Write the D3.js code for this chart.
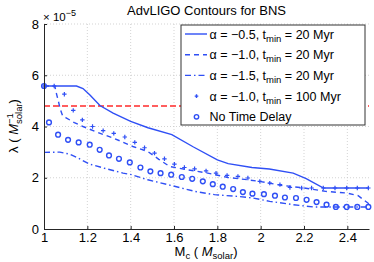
<!DOCTYPE html>
<html><head><meta charset="utf-8">
<script src="https://cdn.jsdelivr.net/npm/d3@7"></script>
<style>
html,body{margin:0;padding:0;background:#fff;}
svg text{font-family:"Liberation Sans",Arial,Helvetica,sans-serif;fill:#000;}
</style></head>
<body><svg id="c" width="374" height="262"></svg>
<script>
// ---- data (λ in units of 1e-5) ----
const xTicks = [1, 1.2, 1.4, 1.6, 1.8, 2, 2.2, 2.4];
const xTickLabels = ["1", "1.2", "1.4", "1.6", "1.8", "2", "2.2", "2.4"];
const yTicks = [0, 2, 4, 6, 8];
const yTickLabels = ["0", "2", "4", "6", "8"];
const threshold = 4.8;

const solidX = [1.0, 1.15, 1.18, 1.212, 1.258, 1.319, 1.40, 1.48, 1.59, 1.69, 1.80, 1.85, 1.96, 2.04, 2.15, 2.21, 2.29, 2.5];
const solidY = [5.58, 5.58, 5.48, 5.23, 4.82, 4.52, 4.2, 3.95, 3.68, 3.2, 2.70, 2.55, 2.40, 2.34, 2.18, 1.97, 1.60, 1.60];

const dashedX = [1.0, 1.05, 1.056, 1.066, 1.075, 1.086, 1.1, 1.14, 1.18, 1.25, 1.32, 1.41, 1.48, 1.53, 1.58, 1.664, 1.756, 1.849, 1.941, 2.0, 2.1, 2.2, 2.3, 2.4, 2.45, 2.5];
const dashedY = [5.58, 5.58, 5.33, 5.0, 4.68, 4.42, 4.35, 4.15, 4.0, 3.76, 3.55, 3.22, 3.02, 2.72, 2.44, 2.31, 2.18, 2.01, 1.92, 1.85, 1.70, 1.60, 1.47, 1.40, 1.30, 0.98];

const dashDotX = [1.0, 1.073, 1.119, 1.157, 1.211, 1.288, 1.365, 1.404, 1.479, 1.587, 1.695, 1.787, 1.895, 1.964, 2.042, 2.15, 2.243, 2.32, 2.5];
const dashDotY = [2.99, 3.0, 2.92, 2.77, 2.53, 2.35, 2.18, 2.12, 1.92, 1.70, 1.47, 1.34, 1.27, 1.21, 1.08, 0.95, 0.86, 0.86, 0.86];

const plusX = [1.0, 1.047, 1.094, 1.135, 1.177, 1.224, 1.273, 1.322, 1.373, 1.419, 1.464, 1.51, 1.556, 1.602, 1.648, 1.695, 1.748, 1.794, 1.845, 1.895, 1.941, 1.996, 2.042, 2.089, 2.135, 2.189, 2.235, 2.289, 2.343, 2.397, 2.446, 2.497];
const plusY = [5.58, 5.58, 5.26, 4.63, 4.26, 4.00, 3.84, 3.73, 3.59, 3.38, 3.17, 2.96, 2.74, 2.53, 2.40, 2.35, 2.27, 2.18, 2.09, 2.05, 1.99, 1.86, 1.79, 1.73, 1.62, 1.60, 1.60, 1.60, 1.60, 1.60, 1.60, 1.60];

const circX = [1.0, 1.023, 1.065, 1.111, 1.160, 1.211, 1.257, 1.300, 1.346, 1.396, 1.445, 1.491, 1.538, 1.587, 1.636, 1.684, 1.733, 1.779, 1.825, 1.873, 1.918, 1.962, 2.015, 2.066, 2.112, 2.163, 2.212, 2.258, 2.304, 2.347, 2.397, 2.446, 2.497];
const circY = [5.58, 4.16, 3.68, 3.48, 3.38, 3.29, 3.09, 2.87, 2.74, 2.60, 2.40, 2.25, 2.18, 2.12, 2.03, 1.96, 1.86, 1.75, 1.65, 1.56, 1.44, 1.38, 1.36, 1.30, 1.23, 1.21, 1.14, 1.05, 0.95, 0.86, 0.86, 0.86, 0.86];

const legendLabels = [
  ["α = −0.5, t", "min", " = 20 Myr"],
  ["α = −1.0, t", "min", " = 20 Myr"],
  ["α = −1.5, t", "min", " = 20 Myr"],
  ["α = −1.0, t", "min", " = 100 Myr"],
  ["No Time Delay", "", ""]
];
const titleText = "AdvLIGO Contours for BNS";

// ---- drawing ----
const blue = "#2f4ff5";
const svg = d3.select("#c");
const L = 44, R = 369, T = 24, B = 229;
const x = d3.scaleLinear().domain([1, 2.5]).range([L, R]);
const y = d3.scaleLinear().domain([0, 8]).range([B, T]);
const zip = (a, b) => a.map((v, i) => [v, b[i]]);
const line = d3.line().x(d => x(d[0])).y(d => y(d[1]));

// grid
const grid = svg.append("g").attr("stroke", "#c8c8c8").attr("stroke-width", 0.8).attr("stroke-dasharray", "1,2");
xTicks.slice(1).forEach(t => grid.append("line").attr("x1", x(t)).attr("x2", x(t)).attr("y1", T).attr("y2", B));
yTicks.slice(1).forEach(t => grid.append("line").attr("x1", L).attr("x2", R).attr("y1", y(t)).attr("y2", y(t)));

// threshold
svg.append("line").attr("x1", x(1)).attr("x2", x(2.5)).attr("y1", y(threshold)).attr("y2", y(threshold))
  .attr("stroke", "#ff2a2a").attr("stroke-width", 1.6).attr("stroke-dasharray", "6,3");

// series lines
const plot = svg.append("g").attr("fill", "none").attr("stroke", blue).attr("stroke-width", 1.4);
plot.append("path").attr("d", line(zip(solidX, solidY)));
plot.append("path").attr("d", line(zip(dashedX, dashedY))).attr("stroke-dasharray", "5,4");
plot.append("path").attr("d", line(zip(dashDotX, dashDotY))).attr("stroke-dasharray", "6,3,1.5,3");

// markers
function plusMark(g, cx, cy, s) {
  g.append("path").attr("d", `M${cx - s},${cy}H${cx + s}M${cx},${cy - s}V${cy + s}`);
}
const pm = svg.append("g").attr("stroke", blue).attr("stroke-width", 1.2).attr("fill", "none");
zip(plusX, plusY).forEach(d => plusMark(pm, x(d[0]), y(d[1]), 2.2));
svg.append("g").selectAll("circle").data(zip(circX, circY)).join("circle")
  .attr("cx", d => x(d[0])).attr("cy", d => y(d[1])).attr("r", 2.4)
  .attr("fill", "none").attr("stroke", blue).attr("stroke-width", 1.4);

// axes
const axCol = "#262626";
const xAxis = svg.append("g").attr("transform", `translate(0,${B})`)
  .call(d3.axisBottom(x).tickValues(xTicks).tickFormat((d, i) => xTickLabels[i]).tickSizeInner(-3).tickSizeOuter(0).tickPadding(4));
const yAxis = svg.append("g").attr("transform", `translate(${L},0)`)
  .call(d3.axisLeft(y).tickValues(yTicks).tickFormat((d, i) => yTickLabels[i]).tickSizeInner(-3).tickSizeOuter(0).tickPadding(5));
[xAxis, yAxis].forEach(a => {
  a.select(".domain").attr("stroke", axCol).attr("stroke-width", 1);
  a.selectAll(".tick line").attr("stroke", axCol);
  a.selectAll(".tick text").attr("font-size", 13).attr("fill", "#000")
    .style("font-family", '"Liberation Sans",Arial,sans-serif');
});

// exponent label
const ex = svg.append("text").attr("x", 43).attr("y", 21).attr("font-size", 11.5);
ex.append("tspan").text("× 10");
ex.append("tspan").attr("dy", -5).attr("font-size", 9).text("−5");

// title
svg.append("text").attr("x", 206.5).attr("y", 15).attr("text-anchor", "middle").attr("font-size", 13).text(titleText);

// x label
const xl = svg.append("text").attr("x", 206).attr("y", 256).attr("text-anchor", "middle").attr("font-size", 13);
xl.append("tspan").text("M");
xl.append("tspan").attr("dy", 3).attr("font-size", 9.5).text("c");
xl.append("tspan").attr("dy", -3).text(" ( ");
xl.append("tspan").attr("font-style", "italic").text("M");
xl.append("tspan").attr("dy", 3).attr("font-size", 9.5).text("solar");
xl.append("tspan").attr("dy", -3).text(")");

// y label (rotated), M^{-1}_{solar}
const yg = svg.append("g").attr("transform", "translate(18,126) rotate(-90)");
const t1 = yg.append("text").attr("font-size", 13).text("λ ( ");
t1.append("tspan").attr("font-style", "italic").text("M");
const w1 = t1.node().getComputedTextLength();
const sup = yg.append("text").attr("font-size", 9.5).text("−1");
const sub = yg.append("text").attr("font-size", 9.5).text("solar");
const wS = Math.max(sup.node().getComputedTextLength(), sub.node().getComputedTextLength());
const t3 = yg.append("text").attr("font-size", 13).text(")");
const w3 = t3.node().getComputedTextLength();
const x0 = -(w1 + wS + w3) / 2;
t1.attr("x", x0).attr("y", 0);
sup.attr("x", x0 + w1).attr("y", -5);
sub.attr("x", x0 + w1).attr("y", 4);
t3.attr("x", x0 + w1 + wS).attr("y", 0);

// legend
const lg = svg.append("g");
lg.append("rect").attr("x", 181).attr("y", 25).attr("width", 184).attr("height", 100)
  .attr("fill", "#fff").attr("stroke", "#333").attr("stroke-width", 1);
const rowY = i => 34 + i * 20.7;
const ls = lg.append("g").attr("stroke", blue).attr("stroke-width", 1.4).attr("fill", "none");
ls.append("line").attr("x1", 185).attr("x2", 207).attr("y1", rowY(0)).attr("y2", rowY(0));
ls.append("line").attr("x1", 185).attr("x2", 207).attr("y1", rowY(1)).attr("y2", rowY(1)).attr("stroke-dasharray", "5,4");
ls.append("line").attr("x1", 185).attr("x2", 207).attr("y1", rowY(2)).attr("y2", rowY(2)).attr("stroke-dasharray", "6,3,1.5,3");
plusMark(ls, 196.5, rowY(3), 1.8);
ls.append("circle").attr("cx", 196.5).attr("cy", rowY(4)).attr("r", 2.2);
legendLabels.forEach((lab, i) => {
  const t = lg.append("text").attr("x", 209.5).attr("y", rowY(i) + 4.5).attr("font-size", 12.5);
  t.append("tspan").text(lab[0]);
  if (lab[1]) {
    t.append("tspan").attr("dy", 3).attr("font-size", 9.5).text(lab[1]);
    t.append("tspan").attr("dy", -3).text(lab[2]);
  }
});
</script></body></html>
